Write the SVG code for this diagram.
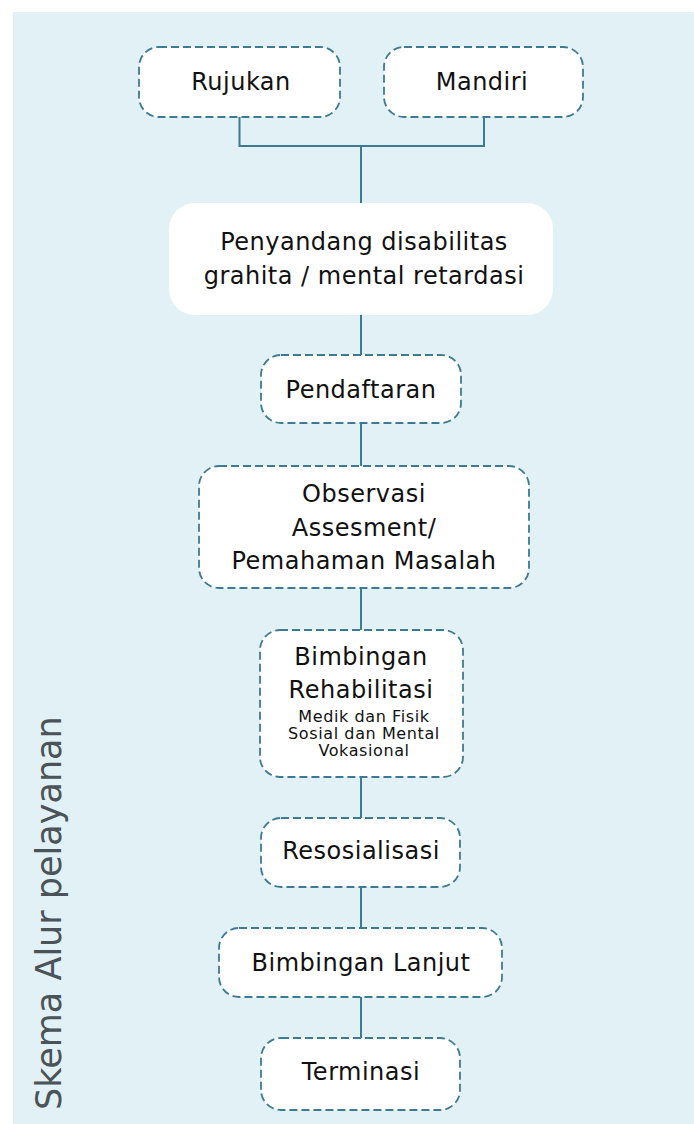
<svg xmlns="http://www.w3.org/2000/svg" width="694" height="1124" viewBox="0 0 694 1124">
<style>
.box{fill:#ffffff;stroke:#3d7a93;stroke-width:1.8;stroke-dasharray:8 4}
.plain{fill:#ffffff}
.lbl{font-family:"DejaVu Sans","Noto Sans",sans-serif;font-size:24px;fill:#111111;text-anchor:middle;letter-spacing:0.5px}
.sm{font-family:"DejaVu Sans","Noto Sans",sans-serif;font-size:16px;fill:#111111;text-anchor:middle;letter-spacing:0.6px}
.conn{fill:none;stroke:#3d7a93;stroke-width:2}
.side{font-family:"DejaVu Sans","Noto Sans",sans-serif;font-size:35px;fill:#4a5358}
</style>
<rect x="13" y="12" width="681" height="1112" fill="#e2f1f5"/>
<text class="side" transform="translate(61,1110) rotate(-90)">Skema Alur pelayanan</text>
<g id="connectors">
<path class="conn" d="M239.5 117V146H484V117M361 146V203"/>
<path class="conn" d="M361 315V355"/>
<path class="conn" d="M361 423V466"/>
<path class="conn" d="M361 588V630"/>
<path class="conn" d="M361 777V818"/>
<path class="conn" d="M361 887V928"/>
<path class="conn" d="M361 997V1038"/>
</g>
<g id="rujukan"><rect class="box" x="139" y="47" width="201" height="70" rx="20"/><text class="lbl" x="241" y="90">Rujukan</text></g>
<g id="mandiri"><rect class="box" x="384" y="47" width="199" height="70" rx="20"/><text class="lbl" x="482" y="90">Mandiri</text></g>
<g id="penyandang"><rect class="plain" x="169" y="203" width="384" height="112" rx="26"/><text class="lbl" x="364" y="250">Penyandang disabilitas</text><text class="lbl" x="364" y="284">grahita / mental retardasi</text></g>
<g id="pendaftaran"><rect class="box" x="261" y="355" width="200" height="68" rx="20"/><text class="lbl" x="361" y="398">Pendaftaran</text></g>
<g id="observasi"><rect class="box" x="199" y="466" width="330" height="122" rx="20"/><text class="lbl" x="364" y="502">Observasi</text><text class="lbl" x="364" y="536">Assesment/</text><text class="lbl" x="364" y="569">Pemahaman Masalah</text></g>
<g id="bimbingan-rehab"><rect class="box" x="260" y="630" width="203" height="147" rx="20"/><text class="lbl" x="361" y="665">Bimbingan</text><text class="lbl" x="361" y="698">Rehabilitasi</text><text class="sm" x="364" y="722">Medik dan Fisik</text><text class="sm" x="364" y="739">Sosial dan Mental</text><text class="sm" x="364" y="756">Vokasional</text></g>
<g id="resosialisasi"><rect class="box" x="261" y="818" width="199" height="69" rx="20"/><text class="lbl" x="361" y="859">Resosialisasi</text></g>
<g id="bimbingan-lanjut"><rect class="box" x="219" y="928" width="283" height="69" rx="20"/><text class="lbl" x="361" y="971">Bimbingan Lanjut</text></g>
<g id="terminasi"><rect class="box" x="261" y="1038" width="199" height="72" rx="20"/><text class="lbl" x="361" y="1080">Terminasi</text></g>
</svg>
